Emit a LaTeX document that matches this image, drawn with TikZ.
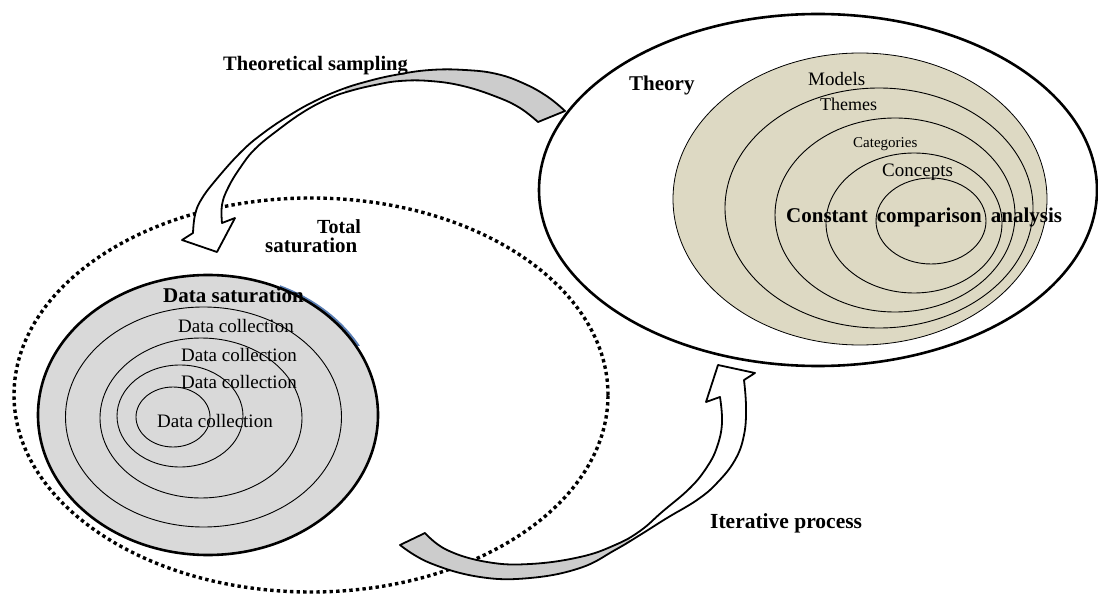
\documentclass[tikz,border=0pt]{standalone}
\usepackage{fontspec}
\setmainfont{Liberation Serif}
\usetikzlibrary{shapes.geometric}
\definecolor{satgray}{HTML}{D9D9D9}
\definecolor{tanfill}{HTML}{DDD9C3}
\definecolor{arrowgray}{HTML}{CCCCCC}
\definecolor{shadowblue}{HTML}{5B7FB5}
\begin{document}
\begin{tikzpicture}[x=1pt,y=-1pt,
  ring/.style={draw, ellipse, inner sep=0pt, line width=0.9pt},
  lbl/.style={inner sep=0pt, anchor=base west, font=\fontsize{19}{19}\selectfont},
  blbl/.style={inner sep=0pt, anchor=base west, font=\fontsize{21}{21}\selectfont\bfseries},
  band/.style={draw=black, line width=1.8pt, line join=round},
]
\useasboundingbox (0,0) rectangle (1098,596);

% Total saturation (dotted)
\node[draw, ellipse, inner sep=0pt, line width=3.4pt, dash pattern=on 3.4pt off 3.2pt,
      minimum width=594pt, minimum height=394pt] (total) at (311,395) {};

% Data saturation rings (with a faint blue shadow at the upper right)
\begin{scope}
  \clip (280,270) rectangle (390,345);
  \node[draw=shadowblue, ellipse, inner sep=0pt, line width=2.2pt, minimum width=340pt, minimum height=280pt] (datashadow) at (210,414) {};
\end{scope}
\node[ring, line width=2.6pt, fill=satgray, minimum width=340pt, minimum height=280pt] (datasat) at (208,415) {};
\node[ring, minimum width=276pt, minimum height=220pt] (dcring1) at (203.5,417) {};
\node[ring, minimum width=202pt, minimum height=160pt] (dcring2) at (201,418) {};
\node[ring, minimum width=126pt, minimum height=102pt] (dcring3) at (180,416) {};
\node[ring, minimum width=74pt, minimum height=60pt] (dcring4) at (173,417) {};

% Theory rings
\node[ring, line width=2.6pt, fill=white, minimum width=558pt, minimum height=352pt] (theory) at (818,190) {};
\node[ring, line width=0.8pt, fill=tanfill, minimum width=374pt, minimum height=292pt] (modelsring) at (860,199) {};
\node[ring, minimum width=308pt, minimum height=240pt] (themesring) at (879,208) {};
\node[ring, minimum width=240pt, minimum height=194pt] (catring) at (895,215) {};
\node[ring, minimum width=176pt, minimum height=140pt] (conring) at (914,223) {};
\node[ring, minimum width=110pt, minimum height=86pt] (ccaring) at (931,221) {};

% Arrow 1: Theoretical sampling (twisted block arrow)
\coordinate (aAt1) at (565,111);
\coordinate (aAt2) at (538,122);
\coordinate (aAls) at (193,233);
\coordinate (aAlb) at (182,240);
\coordinate (aAtip) at (217,252);
\coordinate (aArb) at (235,218);
\coordinate (aArs) at (222,223);
\def\arrowApath{plot[smooth, tension=0.7] coordinates {(aAls) (195,215) (201,200) (215,181) (240,153) (262,134) (290,115) (315,101) (340,90) (365,82) (395,75) (430,70) (465,70) (497,74) (525,84) (548,97) (aAt1)}
  -- plot[smooth, tension=0.7] coordinates {(aAt2) (520,108) (497,97) (463,86) (430,81) (400,81) (375,85) (350,91) (330,98) (305,111) (278,130) (255,149) (240,168) (228,188) (222,205) (aArs)}
  -- (aArb) -- (aAtip) -- (aAlb) -- cycle}
\fill[white] \arrowApath;
\begin{scope}
  \clip (345,0) rectangle (620,200);
  \fill[arrowgray] \arrowApath;
\end{scope}
\draw[band] \arrowApath;

% Arrow 2: Iterative process (twisted block arrow)
\coordinate (aBta) at (400,545);
\coordinate (aBtb) at (425,533);
\coordinate (aBrs) at (744,380);
\coordinate (aBrb) at (755,373);
\coordinate (aBtip) at (718,365);
\coordinate (aBlb) at (706,402);
\coordinate (aBls) at (720,397);
\def\arrowBpath{plot[smooth, tension=0.7] coordinates {(aBtb) (447,550) (487,562) (530,564) (580,557) (615,545) (640,531) (662,512) (690,488) (707,467) (717,447) (722,423) (aBls)}
  -- (aBlb) -- (aBtip) -- (aBrb) --
  plot[smooth, tension=0.7] coordinates {(aBrs) (746,407) (744,435) (735,460) (717,483) (697,500) (667,518) (640,535) (615,550) (580,568) (530,578) (480,577) (430,563) (aBta)}
  -- cycle}
\fill[white] \arrowBpath;
\begin{scope}
  \clip (380,500) rectangle (630,596);
  \fill[arrowgray] \arrowBpath;
\end{scope}
\draw[band] \arrowBpath;

% Labels
\node[blbl, font=\fontsize{20.5}{20.5}\selectfont\bfseries] (tslbl) at (223,71) {Theoretical sampling};
\node[blbl] (theorylbl) at (629,91) {Theory};
\node[lbl] (modelslbl) at (808,86) {Models};
\node[lbl, font=\fontsize{18}{18}\selectfont] (themeslbl) at (820,111) {Themes};
\node[lbl, font=\fontsize{15}{15}\selectfont] (catlbl) at (853,148) {Categories};
\node[lbl] (conlbl) at (882,177) {Concepts};
\node[blbl] (ccalbl) at (786,223) {Constant\hspace{9pt}comparison\hspace{9pt}analysis};
\node[blbl, font=\fontsize{20}{20}\selectfont\bfseries] (totallbl1) at (317,234) {Total};
\node[blbl] (totallbl2) at (265,253) {saturation};
\node[blbl, font=\fontsize{21.5}{21.5}\selectfont\bfseries] (iterlbl) at (710,528) {Iterative process};
\node[blbl] (datasatlbl) at (163,302) {Data saturation};
\node[lbl] (dclbl1) at (178,332) {Data collection};
\node[lbl] (dclbl2) at (181,361) {Data collection};
\node[lbl] (dclbl3) at (181,388) {Data collection};
\node[lbl] (dclbl4) at (157,427) {Data collection};
\end{tikzpicture}
\end{document}
